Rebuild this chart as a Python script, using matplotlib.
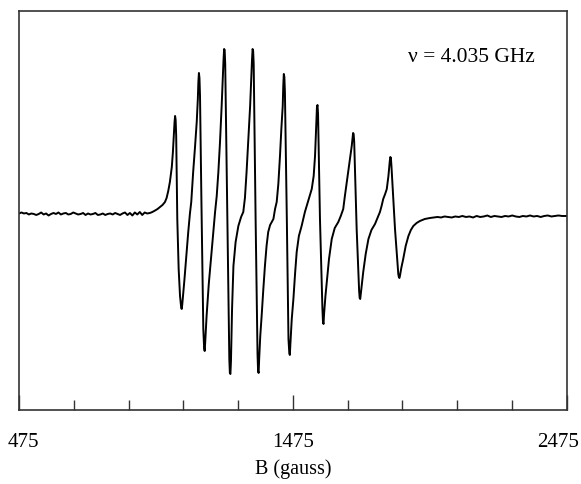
import matplotlib
matplotlib.use("Agg")
import matplotlib.pyplot as plt
import matplotlib.transforms as mtransforms

# EPR spectrum (field in gauss, signal in arbitrary units)
# left baseline
base_left_gauss = [
    475, 484, 493, 502, 511, 520, 529, 538, 547, 556, 565, 574, 583, 592, 601,
    610, 619, 628, 637, 646, 655, 664, 673, 682, 691, 700, 709, 718, 727, 736,
    745, 754, 763, 772, 781, 790, 799, 808, 817, 826, 835, 844, 853, 862, 871,
    880, 889, 898, 907, 916, 925, 934, 943,
]
base_left_signal = [
    0.5, 1.5, 0.5, 1, -0.5, 0.5, 0, -1, 0, 1.5, -0.5, 0.5, -1.5, 0, 1,
    0, 1.5, -0.5, 0.5, 1, -0.5, 0, 1.5, 0.5, -0.5, 0, 1, -1, 0.5, -0.5,
    0, 1, -1, -0.5, 0.5, -1, 0, 0.5, -0.5, 1, 0, -1, 0.5, 1.5, -1,
    1, -1.5, 1.5, -0.5, 2, -1, 1.5, 0.5,
]

# the eight hyperfine lines
lines_gauss = [
    953, 962, 972, 981, 990, 999, 1008, 1014, 1020, 1026, 1033, 1037, 1040,
    1043, 1045, 1047, 1049, 1053, 1058, 1063, 1067, 1069, 1071, 1074, 1079,
    1086, 1093, 1099, 1104, 1111, 1118, 1124, 1128, 1130, 1132, 1134, 1136,
    1141, 1148, 1151, 1153, 1155, 1160, 1168, 1179, 1186, 1191, 1197, 1203,
    1209, 1215, 1219, 1222, 1224, 1226, 1228, 1236, 1243, 1245, 1247, 1249,
    1253, 1258, 1266, 1276, 1286, 1294, 1300, 1306, 1312, 1319, 1323, 1326,
    1328, 1330, 1332, 1339, 1346, 1348, 1350, 1352, 1356, 1361, 1367, 1373,
    1379, 1385, 1392, 1398, 1404, 1410, 1416, 1422, 1428, 1433, 1438, 1440,
    1442, 1444, 1446, 1453, 1459, 1462, 1464, 1466, 1471, 1477, 1483, 1489,
    1497, 1507, 1513, 1519, 1530, 1544, 1551, 1556, 1560, 1563, 1565, 1567,
    1574, 1583, 1585, 1587, 1589, 1594, 1599, 1607, 1617, 1628, 1641, 1650,
    1659, 1665, 1671, 1677, 1684, 1690, 1693, 1695, 1697, 1699, 1708, 1717,
    1719, 1721, 1723, 1727, 1732, 1741, 1751, 1762, 1775, 1784, 1793, 1799,
    1805, 1812, 1818, 1824, 1829, 1831, 1833, 1835, 1848, 1860, 1862, 1864,
    1866, 1871, 1878, 1887, 1897, 1906, 1915, 1927, 1939, 1957, 1976,
]
lines_signal = [
    1, 2, 3.5, 5, 7, 9, 12, 16, 23, 32, 47, 62, 78,
    92, 98, 94, 78, -5, -55, -82, -93, -95, -91, -82, -66,
    -42, -18, 0, 12, 42, 68, 92, 115, 132, 141, 136, 118,
    15, -115, -134, -137, -128, -102, -70, -35, -14, 2, 18, 42,
    72, 108, 135, 155, 165, 164, 150, -5, -145, -159, -160, -147,
    -95, -52, -28, -12, -3, 2, 16, 42, 72, 108, 135, 155,
    165, 163, 150, -5, -140, -157, -159, -145, -122, -102, -76, -52,
    -32, -18, -11, -8, -5, 5, 12, 30, 58, 85, 108, 128,
    140, 137, 122, -5, -125, -139, -141, -130, -105, -85, -60, -38,
    -22, -12, -5, 2, 12, 25, 38, 58, 86, 107, 109, 100,
    -5, -95, -108, -110, -100, -82, -68, -45, -25, -14, -8, -2,
    5, 18, 30, 42, 56, 68, 76, 81, 80, 72, -15, -77,
    -84, -85, -80, -70, -58, -40, -25, -16, -10, -4, 2, 8,
    15, 20, 25, 38, 53, 57, 56, 48, -15, -60, -63, -64,
    -62, -54, -45, -32, -22, -16, -12, -9, -7, -5, -4,
]

# right baseline
base_right_gauss = [
    1990, 2003, 2016, 2029, 2042, 2055, 2068, 2081, 2094, 2107, 2120, 2133,
    2146, 2159, 2172, 2185, 2198, 2211, 2224, 2237, 2250, 2263, 2276, 2289,
    2302, 2315, 2328, 2341, 2354, 2367, 2380, 2393, 2406, 2419, 2432, 2445,
    2458, 2475,
]
base_right_signal = [
    -3.5, -3, -3.5, -2.5, -3, -3.5, -2.5, -3, -2, -3, -2.5, -3.5,
    -2, -3, -2.5, -1.5, -3, -2, -2.5, -3, -2, -2.5, -1.5, -2.5,
    -3, -2, -2.5, -1.5, -2.5, -2, -3, -2, -1.5, -2.5, -2, -1.5,
    -2, -2,
]

major_ticks = [475, 1475, 2475]
minor_ticks = [675, 875, 1075, 1275, 1675, 1875, 2075, 2275]
freq_label = "\u03bd = 4.035 GHz"

plt.rcParams['font.family'] = ['Liberation Serif', 'DejaVu Serif']

fig = plt.figure(figsize=(5.81, 4.85), dpi=100)
ax = fig.add_axes([0.0327, 0.1526, 0.9427, 0.8227])

field = base_left_gauss + lines_gauss + base_right_gauss
sig = base_left_signal + lines_signal + base_right_signal
ax.plot(field, sig, color='black', linewidth=1.4)

ax.set_xlim(475, 2475)
ax.set_ylim(-196, 203)
ax.set_yticks([])

ax.set_xticks(major_ticks)
ax.set_xticklabels([str(t) for t in major_ticks])
ax.set_xticks(minor_ticks, minor=True)
ax.tick_params(axis='x', which='major', direction='in', length=11, width=1,
               color='#333333', labelsize=15, pad=16)
ax.tick_params(axis='x', which='minor', direction='in', length=7, width=1,
               color='#333333')

# end labels sit slightly inside the frame in the original
for lbl, dx in zip(ax.get_xticklabels(), [4, 0, -9]):
    lbl.set_transform(lbl.get_transform() +
                      mtransforms.ScaledTranslation(dx / 100, 0, fig.dpi_scale_trans))

for sp in ax.spines.values():
    sp.set_color('#333333')
    sp.set_linewidth(1.2)

ax.text(1895, 157, freq_label, fontsize=15.5, ha='left', va='center')
ax.set_xlabel("B (gauss)", fontsize=14.5, labelpad=5)

fig.savefig("out.png", dpi=100)
